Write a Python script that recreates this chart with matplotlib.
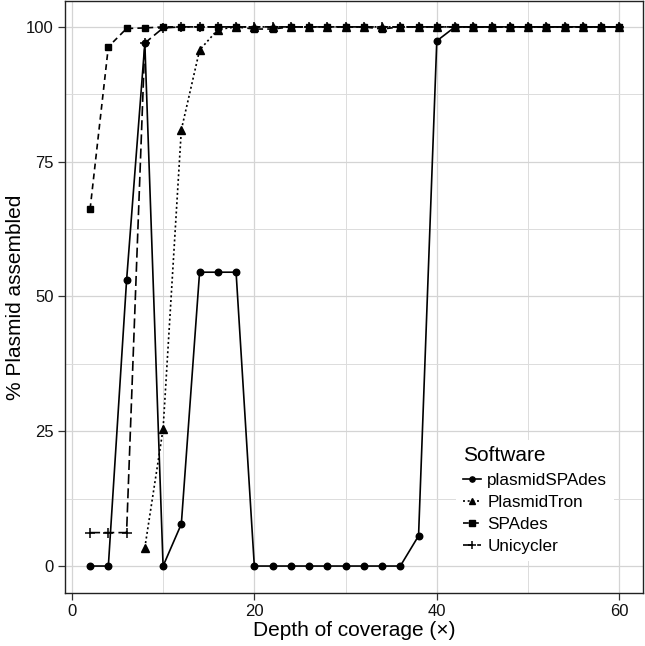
import numpy as np
import matplotlib
matplotlib.use("Agg")
import matplotlib.pyplot as plt
from matplotlib.ticker import MultipleLocator

plt.rcParams['font.family'] = ['Liberation Sans', 'DejaVu Sans']

depth = list(range(2, 61, 2))
nan = np.nan
plasmidspades = [0, 0, 53, 97, 0, 7.8, 54.5, 54.5, 54.5, 0,
                 0, 0, 0, 0, 0, 0, 0, 0, 5.6, 97.4,
                 100, 100, 100, 100, 100, 100, 100, 100, 100, 100]
plasmidtron = [nan, nan, nan, 3.4, 25.4, 80.9, 95.7, 99.5, 100, 100,
               100, 100, 100, 100, 100, 100, 100, 100, 100, 100,
               100, 100, 100, 100, 100, 100, 100, 100, 100, 100]
spades = [66.2, 96.3, 99.7, 99.8, 100, 100, 100, 100, 100, 99.6,
          99.6, 100, 100, 100, 100, 100, 99.6, 100, 100, 100,
          100, 100, 100, 100, 100, 100, 100, 100, 100, 100]
unicycler = [6.2, 6.2, 6.2, 97, 99.8, 100, 100, 100, 100, 100,
             100, 100, 100, 100, 100, 100, 100, 100, 100, 100,
             100, 100, 100, 100, 100, 100, 100, 100, 100, 100]
software = ["plasmidSPAdes", "PlasmidTron", "SPAdes", "Unicycler"]
x_ticks = [0, 20, 40, 60]
y_ticks = [0, 25, 50, 75, 100]

W, H = 645, 646
fig = plt.figure(figsize=(W / 100, H / 100), dpi=100)
L, R, B, T = 65, 643, 593, 1
ax = fig.add_axes([L / W, (H - B) / H, (R - L) / W, (B - T) / H])

styles = [
    dict(linestyle='-', marker='o', ms=4.7),
    dict(linestyle=(0, (1.2, 1.6)), marker='^', ms=5.2),
    dict(linestyle=(0, (3.5, 2.5)), marker='s', ms=4.7),
    dict(linestyle=(0, (6, 2.5)), marker='+', ms=7.5, mew=1.1),
]
series = [plasmidspades, plasmidtron, spades, unicycler]
for name, vals, st in zip(software, series, styles):
    ax.plot(depth, vals, color='black', lw=1.2, label=name, **st)

ax.set_xlim(-0.75, 62.6)
ax.set_ylim(-5, 104.8)
ax.set_xticks(x_ticks)
ax.set_yticks(y_ticks)
ax.xaxis.set_minor_locator(MultipleLocator(10))
ax.yaxis.set_minor_locator(MultipleLocator(12.5))
ax.grid(which='major', color='#d4d4d4', lw=0.9)
ax.grid(which='minor', color='#dcdcdc', lw=0.7)
ax.set_axisbelow(True)
ax.tick_params(which='major', length=5, width=0.9, color='#333333',
               labelsize=12, labelcolor='#111111', pad=3)
ax.tick_params(which='minor', length=0)
for sp in ax.spines.values():
    sp.set_color('#222222')
    sp.set_linewidth(1.0)

ax.set_xlabel("Depth of coverage (×)", fontsize=15, labelpad=1.5)
ax.set_ylabel("% Plasmid assembled", fontsize=15, labelpad=1)

leg = ax.legend(title="Software", loc='lower right',
                bbox_to_anchor=((614 - L) / (R - L), (B - 561) / (B - T)),
                fontsize=12.3, title_fontsize=15, frameon=True,
                facecolor='white', edgecolor='none', framealpha=1,
                handlelength=1.05, handletextpad=0.35, labelspacing=0.42,
                borderpad=0.4, borderaxespad=0, alignment='left',
                fancybox=False, markerscale=0.8)

fig.savefig("out.png", dpi=100)
